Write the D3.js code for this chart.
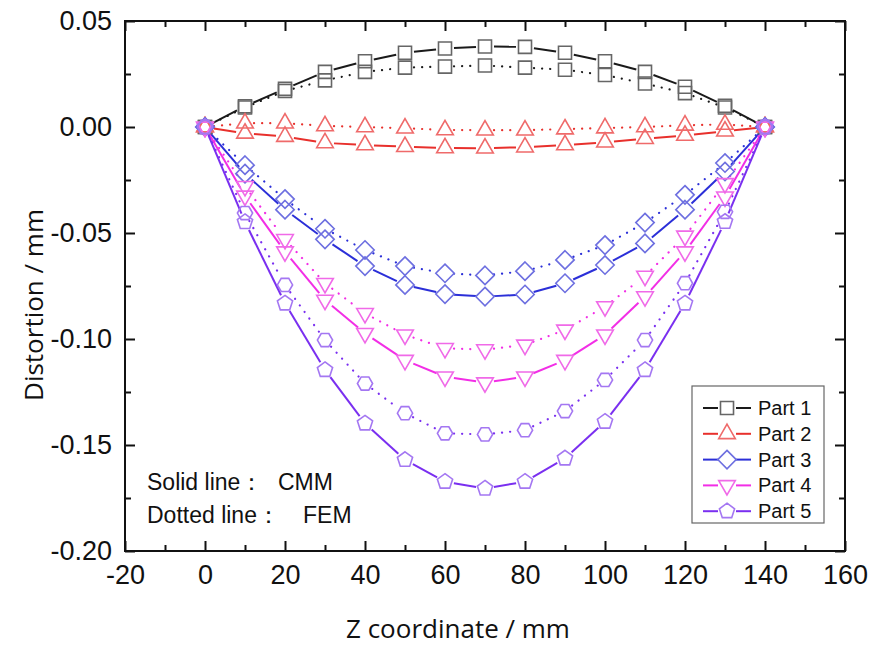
<!DOCTYPE html>
<html>
<head>
<meta charset="utf-8">
<script src="https://cdn.jsdelivr.net/npm/d3@7"></script>
<style>
  body { margin: 0; background: #fff; }
  text { font-family: "Liberation Sans", Arial, sans-serif; fill: #111; }
</style>
</head>
<body>
<div class="container"></div>
<script>
/* globals d3 */
// z positions (mm)
const zValues = [0, 10, 20, 30, 40, 50, 60, 70, 80, 90, 100, 110, 120, 130, 140];

// distortion, CMM (solid) and FEM (dotted)
const part1Cmm = [0, 0.0098, 0.018, 0.026, 0.031, 0.035, 0.037, 0.038, 0.0378, 0.035, 0.031, 0.026, 0.019, 0.010, 0];
const part1Fem = [0, 0.0092, 0.017, 0.022, 0.026, 0.028, 0.0285, 0.029, 0.028, 0.027, 0.0245, 0.0205, 0.016, 0.0092, 0];
const part2Cmm = [0, -0.003, -0.0045, -0.0075, -0.0085, -0.0093, -0.0099, -0.010, -0.0095, -0.0085, -0.0072, -0.0055, -0.004, -0.002, 0];
const part2Fem = [0, 0.0018, 0.0018, 0.0005, 0, -0.0006, -0.0014, -0.0015, -0.0015, -0.001, -0.0005, 0, 0.0008, 0.0012, 0];
const part3Cmm = [0, -0.022, -0.039, -0.053, -0.0656, -0.0745, -0.0788, -0.080, -0.079, -0.0737, -0.0651, -0.0549, -0.039, -0.021, 0];
const part3Fem = [0, -0.018, -0.034, -0.048, -0.058, -0.0656, -0.069, -0.070, -0.068, -0.0627, -0.0557, -0.0451, -0.032, -0.017, 0];
const part4Cmm = [0, -0.0325, -0.0588, -0.0816, -0.0973, -0.110, -0.1178, -0.1206, -0.1178, -0.110, -0.098, -0.080, -0.0588, -0.0329, 0];
const part4Fem = [0, -0.028, -0.053, -0.0737, -0.0879, -0.098, -0.1044, -0.105, -0.1028, -0.0957, -0.0847, -0.0703, -0.0514, -0.0266, 0];
const part5Cmm = [0, -0.0448, -0.0832, -0.1146, -0.1398, -0.157, -0.1673, -0.1705, -0.1673, -0.1563, -0.139, -0.1146, -0.0832, -0.0447, 0];
const part5Fem = [0, -0.0406, -0.0745, -0.1005, -0.121, -0.135, -0.1445, -0.145, -0.143, -0.134, -0.1193, -0.1005, -0.0737, -0.040, 0];

const partNames = ["Part 1", "Part 2", "Part 3", "Part 4", "Part 5"];
const xTicks = [-20, 0, 20, 40, 60, 80, 100, 120, 140, 160];
const yTicks = [0.05, 0.00, -0.05, -0.10, -0.15, -0.20];

const w = 872;
const h = 648;

const parts = [
  { name: partNames[0], cmm: part1Cmm, fem: part1Fem, line: "#1a1a1a", mark: "#666666", shape: "square" },
  { name: partNames[1], cmm: part2Cmm, fem: part2Fem, line: "#e8302c", mark: "#ef6a6a", shape: "triUp" },
  { name: partNames[2], cmm: part3Cmm, fem: part3Fem, line: "#2b2fd8", mark: "#6d6fe0", shape: "diamond" },
  { name: partNames[3], cmm: part4Cmm, fem: part4Fem, line: "#f22ee6", mark: "#f06ae8", shape: "triDown" },
  { name: partNames[4], cmm: part5Cmm, fem: part5Fem, line: "#7a2ff0", mark: "#a477f2", shape: "pentagon" }
];

const xScale = d3.scaleLinear().domain([-20, 160]).range([125, 845]);
const yScale = d3.scaleLinear().domain([-0.20, 0.05]).range([551, 21]);

// plain hyphen instead of unicode minus
const fmtX = d => d3.format("d")(d).replace("−", "-");
const fmtY = d => d3.format(".2f")(d).replace("−", "-");

const svg = d3.select(".container")
  .append("svg")
  .attr("width", w)
  .attr("height", h);

// polygon marker path centred on 0,0
function shapePath(shape, r) {
  let n, rot, rr = r;
  if (shape === "square") { n = 4; rot = Math.PI / 4; rr = r * 1.15; }
  else if (shape === "diamond") { n = 4; rot = 0; rr = r * 1.15; }
  else if (shape === "triUp") { n = 3; rot = 0; rr = r * 1.2; }
  else if (shape === "triDown") { n = 3; rot = Math.PI; rr = r * 1.2; }
  else if (shape === "pentagon") { n = 5; rot = 0; rr = r * 1.0; }
  else { n = 6; rot = Math.PI / 6; rr = r * 0.95; }
  const pts = d3.range(n).map(i => {
    const a = rot + i * 2 * Math.PI / n;
    return [rr * Math.sin(a), -rr * Math.cos(a)];
  });
  return "M" + pts.map(p => p[0].toFixed(2) + "," + p[1].toFixed(2)).join("L") + "Z";
}

// minor ticks
const xMinor = d3.range(-10, 160, 20);
const yMinor = [0.025, -0.025, -0.075, -0.125, -0.175];

// bottom axis
svg.append("g")
  .attr("transform", "translate(0," + yScale(-0.20) + ")")
  .call(d3.axisBottom(xScale).tickValues(xTicks).tickSizeInner(-10).tickSizeOuter(0).tickPadding(14).tickFormat(fmtX))
  .call(g => g.select(".domain").remove())
  .call(g => g.selectAll("text").style("font-size", "27px").attr("fill", "#111"));
svg.append("g")
  .attr("transform", "translate(0," + yScale(-0.20) + ")")
  .call(d3.axisBottom(xScale).tickValues(xMinor).tickSizeInner(-6).tickSizeOuter(0).tickFormat(""))
  .call(g => g.select(".domain").remove());
// top axis
svg.append("g")
  .attr("transform", "translate(0," + yScale(0.05) + ")")
  .call(d3.axisTop(xScale).tickValues(xTicks).tickSizeInner(-10).tickSizeOuter(0).tickFormat(""))
  .call(g => g.select(".domain").remove());
svg.append("g")
  .attr("transform", "translate(0," + yScale(0.05) + ")")
  .call(d3.axisTop(xScale).tickValues(xMinor).tickSizeInner(-6).tickSizeOuter(0).tickFormat(""))
  .call(g => g.select(".domain").remove());
// left axis
svg.append("g")
  .attr("transform", "translate(" + xScale(-20) + ",0)")
  .call(d3.axisLeft(yScale).tickValues(yTicks).tickSizeInner(-10).tickSizeOuter(0).tickPadding(13).tickFormat(fmtY))
  .call(g => g.select(".domain").remove())
  .call(g => g.selectAll("text").style("font-size", "27px").attr("fill", "#111"));
svg.append("g")
  .attr("transform", "translate(" + xScale(-20) + ",0)")
  .call(d3.axisLeft(yScale).tickValues(yMinor).tickSizeInner(-6).tickSizeOuter(0).tickFormat(""))
  .call(g => g.select(".domain").remove());
// right axis
svg.append("g")
  .attr("transform", "translate(" + xScale(160) + ",0)")
  .call(d3.axisRight(yScale).tickValues(yTicks).tickSizeInner(-10).tickSizeOuter(0).tickFormat(""))
  .call(g => g.select(".domain").remove());
svg.append("g")
  .attr("transform", "translate(" + xScale(160) + ",0)")
  .call(d3.axisRight(yScale).tickValues(yMinor).tickSizeInner(-6).tickSizeOuter(0).tickFormat(""))
  .call(g => g.select(".domain").remove());
svg.selectAll(".tick line").attr("stroke", "#111").attr("stroke-width", 2);

// frame
svg.append("rect")
  .attr("x", xScale(-20))
  .attr("y", yScale(0.05))
  .attr("width", xScale(160) - xScale(-20))
  .attr("height", yScale(-0.20) - yScale(0.05))
  .attr("fill", "none")
  .attr("stroke", "#111")
  .attr("stroke-width", 2);

// segments between markers, cut short so markers sit in a gap
function segments(vals, gap) {
  let segs = [];
  for (let i = 0; i < vals.length - 1; i++) {
    const x1 = xScale(zValues[i]), y1 = yScale(vals[i]);
    const x2 = xScale(zValues[i + 1]), y2 = yScale(vals[i + 1]);
    const len = Math.hypot(x2 - x1, y2 - y1);
    if (len <= gap * 2) continue;
    const ux = (x2 - x1) / len, uy = (y2 - y1) / len;
    segs.push([x1 + ux * gap, y1 + uy * gap, x2 - ux * gap, y2 - uy * gap]);
  }
  return segs;
}

const plot = svg.append("g");
const markR = 8;

parts.forEach(p => {
  // FEM dotted
  plot.append("g").selectAll("line")
    .data(segments(p.fem, markR + 1))
    .enter()
    .append("line")
    .attr("x1", d => d[0]).attr("y1", d => d[1])
    .attr("x2", d => d[2]).attr("y2", d => d[3])
    .attr("stroke", p.line)
    .attr("stroke-width", 2.2)
    .attr("stroke-linecap", "round")
    .attr("stroke-dasharray", "0.1,8");
  // CMM solid
  plot.append("g").selectAll("line")
    .data(segments(p.cmm, markR + 1))
    .enter()
    .append("line")
    .attr("x1", d => d[0]).attr("y1", d => d[1])
    .attr("x2", d => d[2]).attr("y2", d => d[3])
    .attr("stroke", p.line)
    .attr("stroke-width", 2);
});

parts.forEach(p => {
  const femShape = p.shape === "pentagon" ? "hexagon" : p.shape;
  plot.append("g").selectAll("path")
    .data(zValues.map((z, i) => [z, p.fem[i]]))
    .enter()
    .append("path")
    .attr("transform", d => "translate(" + xScale(d[0]) + "," + yScale(d[1]) + ")")
    .attr("d", shapePath(femShape, markR))
    .attr("fill", "none")
    .attr("stroke", p.mark)
    .attr("stroke-width", 1.6);
  plot.append("g").selectAll("path")
    .data(zValues.map((z, i) => [z, p.cmm[i]]))
    .enter()
    .append("path")
    .attr("transform", d => "translate(" + xScale(d[0]) + "," + yScale(d[1]) + ")")
    .attr("d", shapePath(p.shape, markR))
    .attr("fill", "none")
    .attr("stroke", p.mark)
    .attr("stroke-width", 1.6);
});

// legend
const legend = svg.append("g").attr("id", "legend");
legend.append("rect")
  .attr("x", 692).attr("y", 386)
  .attr("width", 132).attr("height", 137)
  .attr("fill", "#fff")
  .attr("stroke", "#666")
  .attr("stroke-width", 1.2);
parts.forEach((p, i) => {
  const ly = 408 + i * 25.8;
  legend.append("line").attr("x1", 703).attr("x2", 718).attr("y1", ly).attr("y2", ly)
    .attr("stroke", p.line).attr("stroke-width", 2);
  legend.append("line").attr("x1", 736).attr("x2", 751).attr("y1", ly).attr("y2", ly)
    .attr("stroke", p.line).attr("stroke-width", 2);
  legend.append("path")
    .attr("transform", "translate(727," + ly + ")")
    .attr("d", shapePath(p.shape, 8))
    .attr("fill", "none")
    .attr("stroke", p.mark)
    .attr("stroke-width", 1.6);
  legend.append("text")
    .attr("x", 758).attr("y", ly + 7)
    .style("font-size", "20px")
    .text(p.name);
});

// notes
svg.append("text").attr("x", 147).attr("y", 490).style("font-size", "23px").text("Solid line：");
svg.append("text").attr("x", 278).attr("y", 490).style("font-size", "23px").text("CMM");
svg.append("text").attr("x", 147).attr("y", 523).style("font-size", "23px").text("Dotted line：");
svg.append("text").attr("x", 303).attr("y", 523).style("font-size", "23px").text("FEM");

// axis titles
svg.append("text")
  .attr("x", 458).attr("y", 638)
  .attr("text-anchor", "middle")
  .style("font-family", "'Open Sans', 'Noto Sans', sans-serif")
  .style("font-size", "26px")
  .text("Z coordinate / mm");
svg.append("text")
  .attr("transform", "translate(43,305) rotate(-90)")
  .attr("text-anchor", "middle")
  .style("font-family", "'Open Sans', 'Noto Sans', sans-serif")
  .style("font-size", "26px")
  .text("Distortion / mm");
</script>
</body>
</html>
